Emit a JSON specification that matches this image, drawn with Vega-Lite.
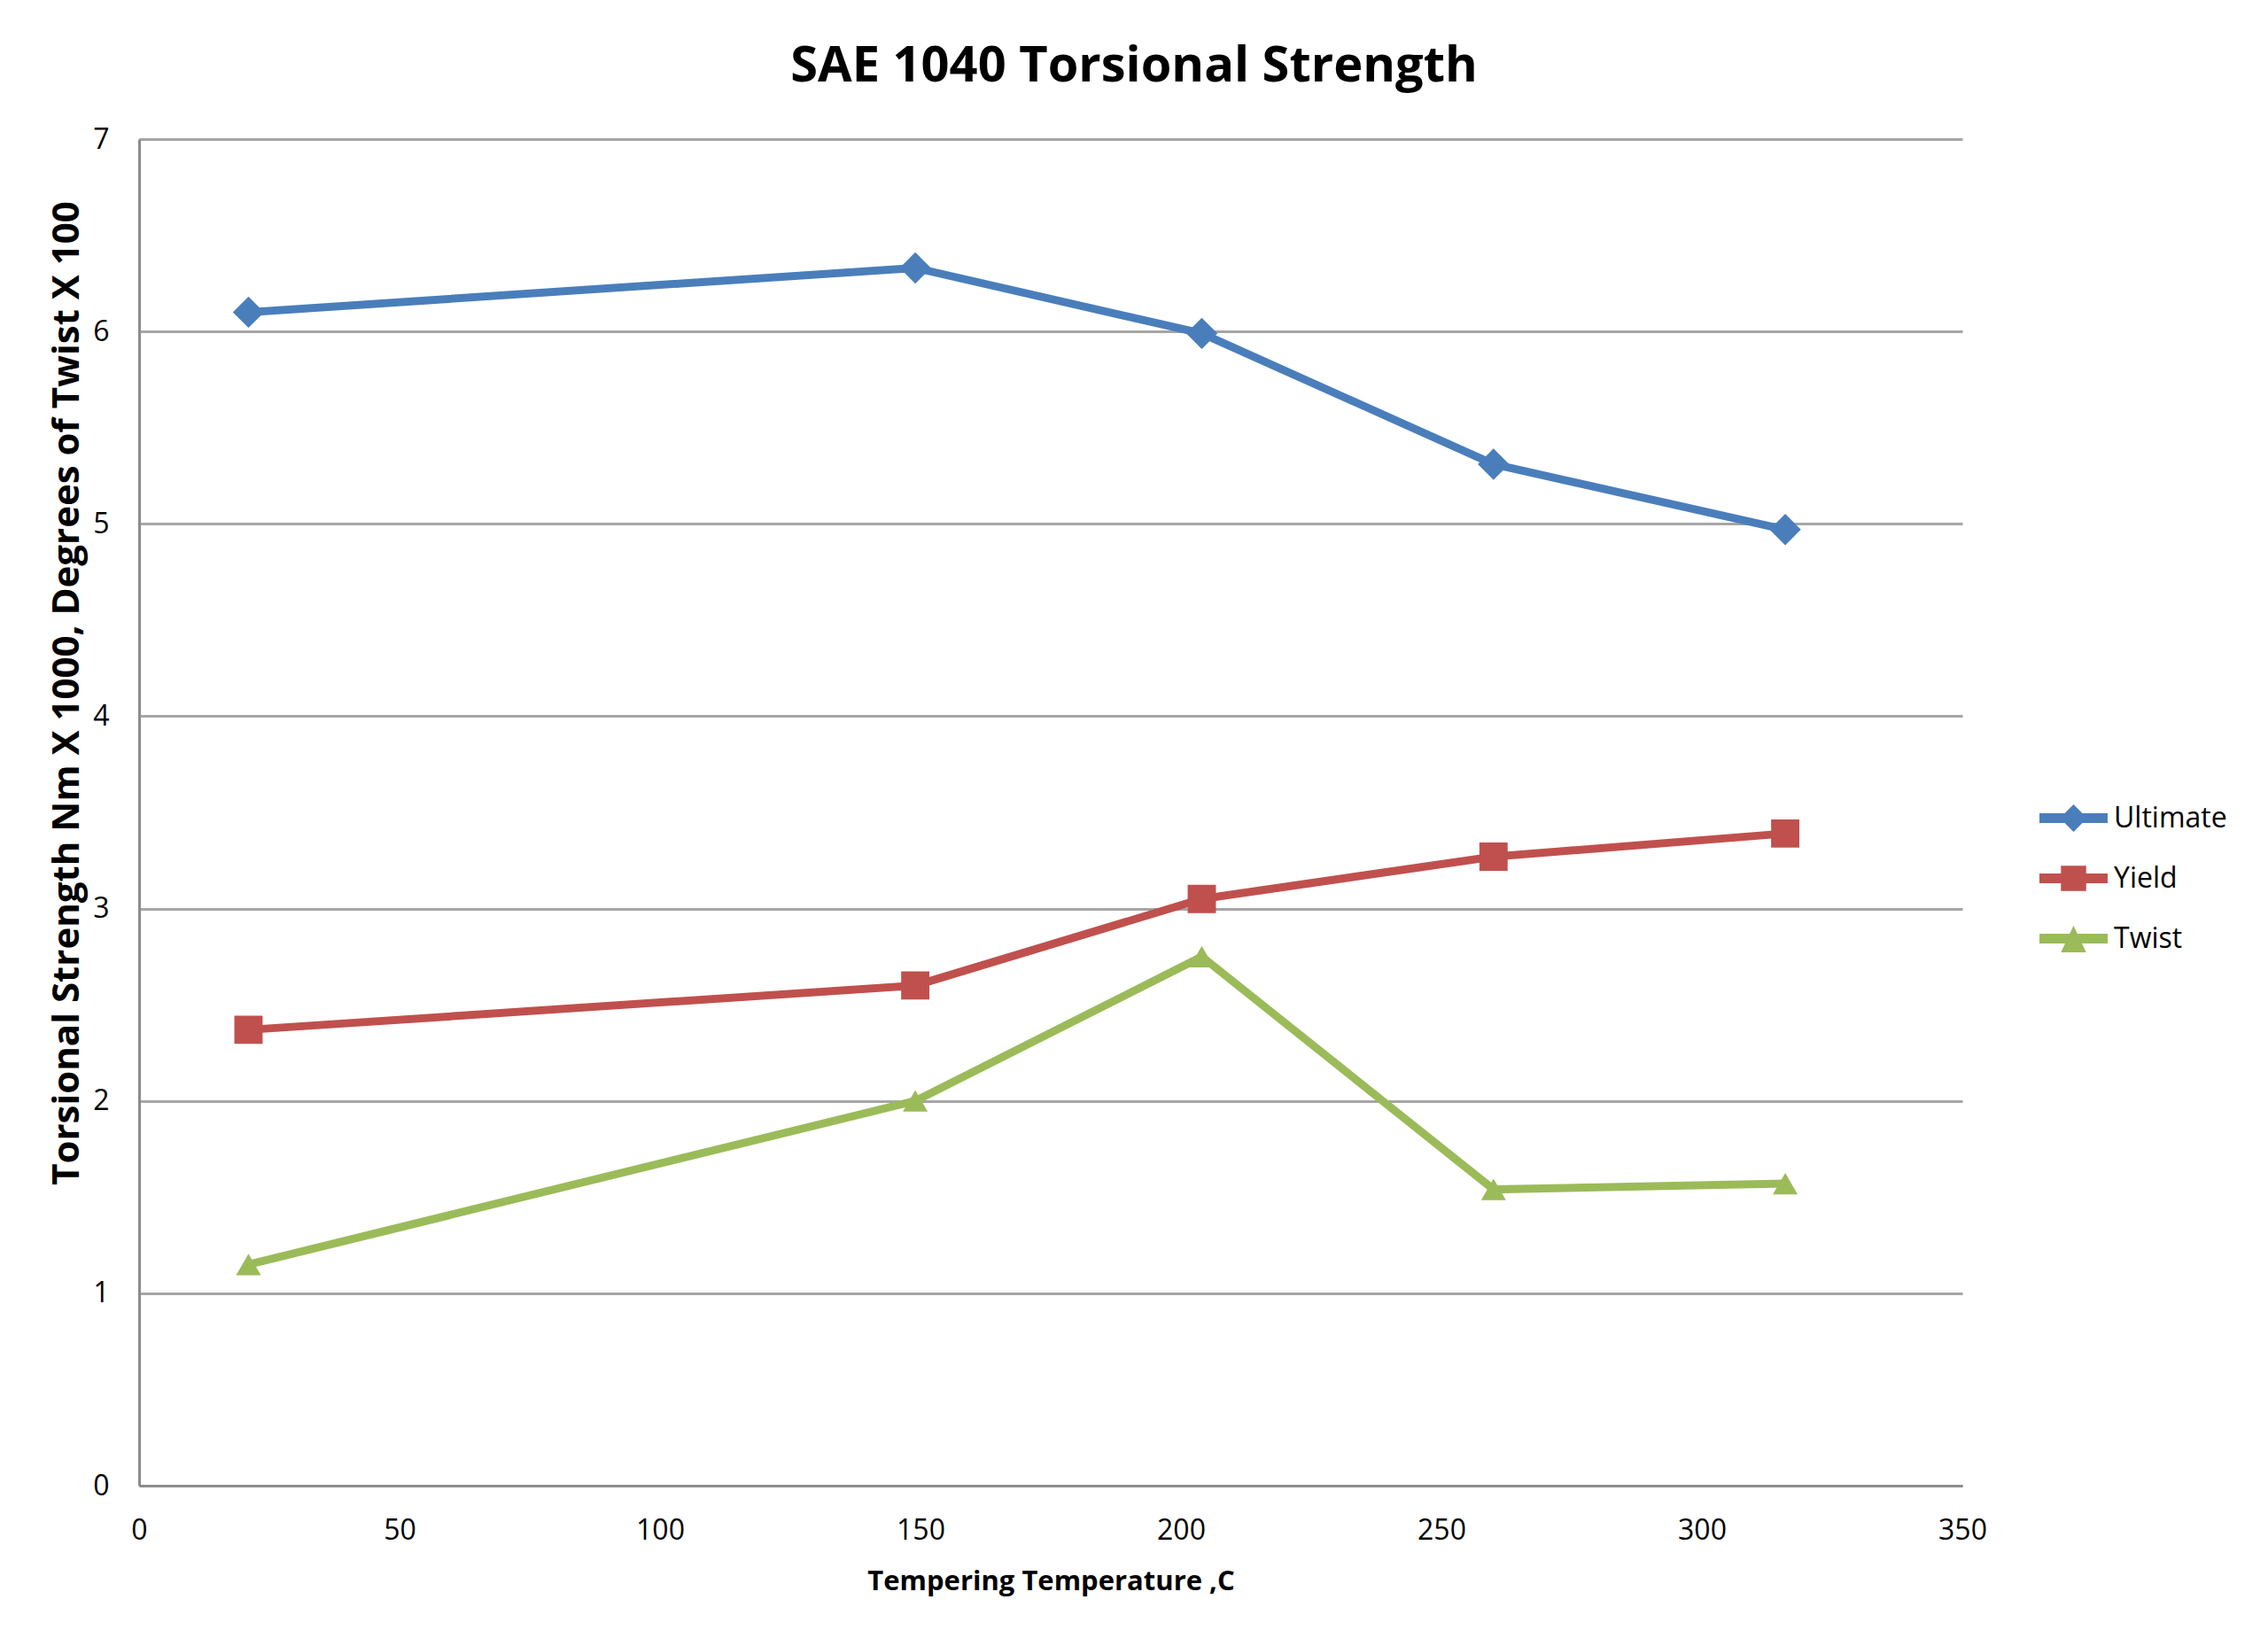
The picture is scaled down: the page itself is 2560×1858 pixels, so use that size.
{
  "$schema": "https://vega.github.io/schema/vega-lite/v6.json",
  "description": "SAE 1040 torsional strength vs tempering temperature",
  "width": 2058,
  "height": 1520,
  "autosize": {"type": "none"},
  "padding": {"left": 157, "top": 157, "right": 345, "bottom": 181},
  "background": "white",
  "title": {
    "text": "SAE 1040 Torsional Strength",
    "fontSize": 56,
    "fontWeight": "bold",
    "font": "Open Sans",
    "color": "black",
    "anchor": "middle",
    "dx": 94,
    "offset": 37
  },
  "data": {
    "values": [
      {"temp": 21, "series": "Ultimate", "value": 6.10},
      {"temp": 149, "series": "Ultimate", "value": 6.33},
      {"temp": 204, "series": "Ultimate", "value": 5.99},
      {"temp": 260, "series": "Ultimate", "value": 5.31},
      {"temp": 316, "series": "Ultimate", "value": 4.97},
      {"temp": 21, "series": "Yield", "value": 2.37},
      {"temp": 149, "series": "Yield", "value": 2.60},
      {"temp": 204, "series": "Yield", "value": 3.05},
      {"temp": 260, "series": "Yield", "value": 3.27},
      {"temp": 316, "series": "Yield", "value": 3.39},
      {"temp": 21, "series": "Twist", "value": 1.15},
      {"temp": 149, "series": "Twist", "value": 2.00},
      {"temp": 204, "series": "Twist", "value": 2.75},
      {"temp": 260, "series": "Twist", "value": 1.54},
      {"temp": 316, "series": "Twist", "value": 1.57}
    ]
  },
  "encoding": {
    "x": {
      "field": "temp",
      "type": "quantitative",
      "scale": {"domain": [0, 350], "nice": false},
      "axis": {
        "title": "Tempering Temperature ,C",
        "values": [0, 50, 100, 150, 200, 250, 300, 350],
        "grid": false,
        "ticks": false,
        "labelFlush": false,
        "domainColor": "#8c8c8c",
        "domainWidth": 3,
        "labelFontSize": 32,
        "labelColor": "black",
        "labelPadding": 35,
        "labelFont": "Open Sans",
        "titleFont": "Open Sans",
        "titleFontSize": 31,
        "titleFontWeight": "bold",
        "titleColor": "black",
        "titlePadding": 27
      }
    },
    "y": {
      "field": "value",
      "type": "quantitative",
      "scale": {"domain": [0, 7], "nice": false},
      "axis": {
        "title": "Torsional Strength Nm X 1000, Degrees of Twist X 100",
        "values": [0, 1, 2, 3, 4, 5, 6, 7],
        "grid": true,
        "gridColor": "#a6a6a6",
        "gridWidth": 3,
        "ticks": false,
        "labelFlush": false,
        "domainColor": "#8c8c8c",
        "domainWidth": 3,
        "labelFontSize": 32,
        "labelColor": "black",
        "labelPadding": 34,
        "labelFont": "Open Sans",
        "titleFont": "Open Sans",
        "titleFontSize": 42,
        "titleFontWeight": "bold",
        "titleColor": "black",
        "titleX": -60,
        "titleY": 625
      }
    }
  },
  "layer": [
    {
      "mark": {"type": "line", "strokeWidth": 9},
      "encoding": {
        "color": {
          "field": "series",
          "type": "nominal",
          "scale": {"domain": ["Ultimate", "Yield", "Twist"], "range": ["#4a7ebb", "#c0504d", "#9bbb59"]},
          "legend": null
        }
      }
    },
    {
      "mark": {"type": "point", "filled": true, "opacity": 1},
      "encoding": {
        "color": {
          "field": "series",
          "type": "nominal",
          "scale": {"domain": ["Ultimate", "Yield", "Twist"], "range": ["#4a7ebb", "#c0504d", "#9bbb59"]},
          "legend": null
        },
        "shape": {
          "field": "series",
          "type": "nominal",
          "scale": {"domain": ["Ultimate", "Yield", "Twist"], "range": ["diamond", "square", "triangle-up"]},
          "legend": null
        },
        "size": {
          "field": "series",
          "type": "nominal",
          "scale": {"domain": ["Ultimate", "Yield", "Twist"], "range": [1250, 784, 1150]},
          "legend": null
        }
      }
    },
    {
      "mark": {"type": "point", "filled": true, "opacity": 0, "size": 5929},
      "encoding": {
        "color": {
          "field": "series",
          "type": "nominal",
          "scale": {"domain": ["Ultimate", "Yield", "Twist"], "range": ["#4a7ebb", "#c0504d", "#9bbb59"]},
          "legend": {
            "title": null,
            "orient": "none",
            "legendX": 2145,
            "legendY": 728,
            "labelFontSize": 32,
            "labelFont": "Open Sans",
            "labelColor": "black",
            "labelOffset": 7,
            "rowPadding": 13,
            "symbolSize": 5929,
            "symbolOpacity": 1,
            "symbolStrokeWidth": 0
          }
        },
        "shape": {
          "field": "series",
          "type": "nominal",
          "scale": {
            "domain": ["Ultimate", "Yield", "Twist"],
            "range": [
              "M-1,-0.14H1V0.14H-1Z M0,-0.4L0.4,0L0,0.4L-0.4,0Z",
              "M-1,-0.14H1V0.14H-1Z M-0.37,-0.37H0.37V0.37H-0.37Z",
              "M-1,-0.14H1V0.14H-1Z M0,-0.38L0.37,0.4H-0.37Z"
            ]
          },
          "legend": {
            "title": null,
            "orient": "none",
            "legendX": 2145,
            "legendY": 728,
            "labelFontSize": 32,
            "labelFont": "Open Sans",
            "labelColor": "black",
            "labelOffset": 7,
            "rowPadding": 13,
            "symbolSize": 5929,
            "symbolOpacity": 1,
            "symbolStrokeWidth": 0
          }
        }
      }
    }
  ],
  "resolve": {"scale": {"color": "independent", "shape": "independent", "size": "independent"}},
  "config": {"view": {"stroke": null}, "font": "Open Sans"}
}
